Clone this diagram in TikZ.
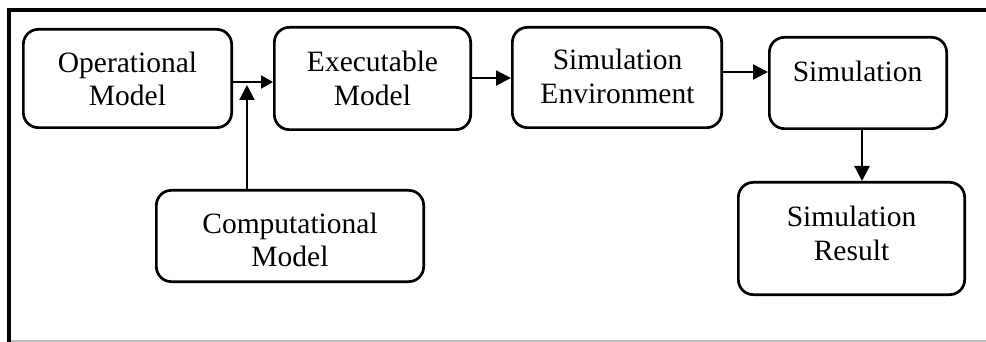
\documentclass[tikz,border=0pt]{standalone}
\usepackage{fontspec}
\setmainfont{Liberation Serif}
\usetikzlibrary{arrows.meta}
\begin{document}
\begin{tikzpicture}[x=1pt,y=-1pt,
  box/.style={draw=black, line width=2.7pt, rounded corners=15pt, inner sep=0pt},
  lbl/.style={inner sep=0pt, align=center, font=\fontsize{29.5}{33.5}\selectfont},
  arr/.style={line width=2.2pt, -{Triangle[length=15pt,width=15pt]}},
  arrs/.style={line width=2.2pt, -{Triangle[length=12pt,width=13pt]}}]
\useasboundingbox (0,0) rectangle (986,342);
% frame
\draw[line width=4pt] (9,342) -- (9,10) -- (986,10);
\draw[line width=1.2pt, black!25] (11,341) -- (986,341);
% boxes
\node[box, minimum width=208.3pt, minimum height=98.3pt] (op) at (127.5,78.5) {};
\node[box, minimum width=196.3pt, minimum height=102.3pt] (exec) at (372.5,78.5) {};
\node[box, minimum width=209.3pt, minimum height=100.3pt] (env) at (617,77.5) {};
\node[box, minimum width=177.3pt, minimum height=91.3pt] (sim) at (858,83) {};
\node[box, minimum width=226.3pt, minimum height=112.3pt] (res) at (851.5,238.5) {};
\node[box, minimum width=267.3pt, minimum height=91.3pt] (comp) at (290,236) {};
% labels
\node[lbl] (opt) at (127.5,79) {Operational\\Model};
\node[lbl] (exect) at (372.5,78.5) {Executable\\Model};
\node[lbl] (envt) at (617.5,76.5) {Simulation\\Environment};
\node[lbl] (simt) at (857.5,71) {Simulation};
\node[lbl] (rest) at (851.5,233.5) {Simulation\\Result};
\node[lbl] (compt) at (290,240) {Computational\\Model};
% connectors
\coordinate (join) at (247,85);
\draw[arrs] (op.east |- 0,82) -- (exec.west |- 0,82);
\draw[arr] (comp.north -| join) -- (join);
\draw[arr] (exec.east |- 0,78) -- (env.west |- 0,78);
\draw[arr] (env.east |- 0,72) -- (sim.west |- 0,72);
\draw[arr] (sim.south -| 862,0) -- (res.north -| 862,0);
\end{tikzpicture}
\end{document}
